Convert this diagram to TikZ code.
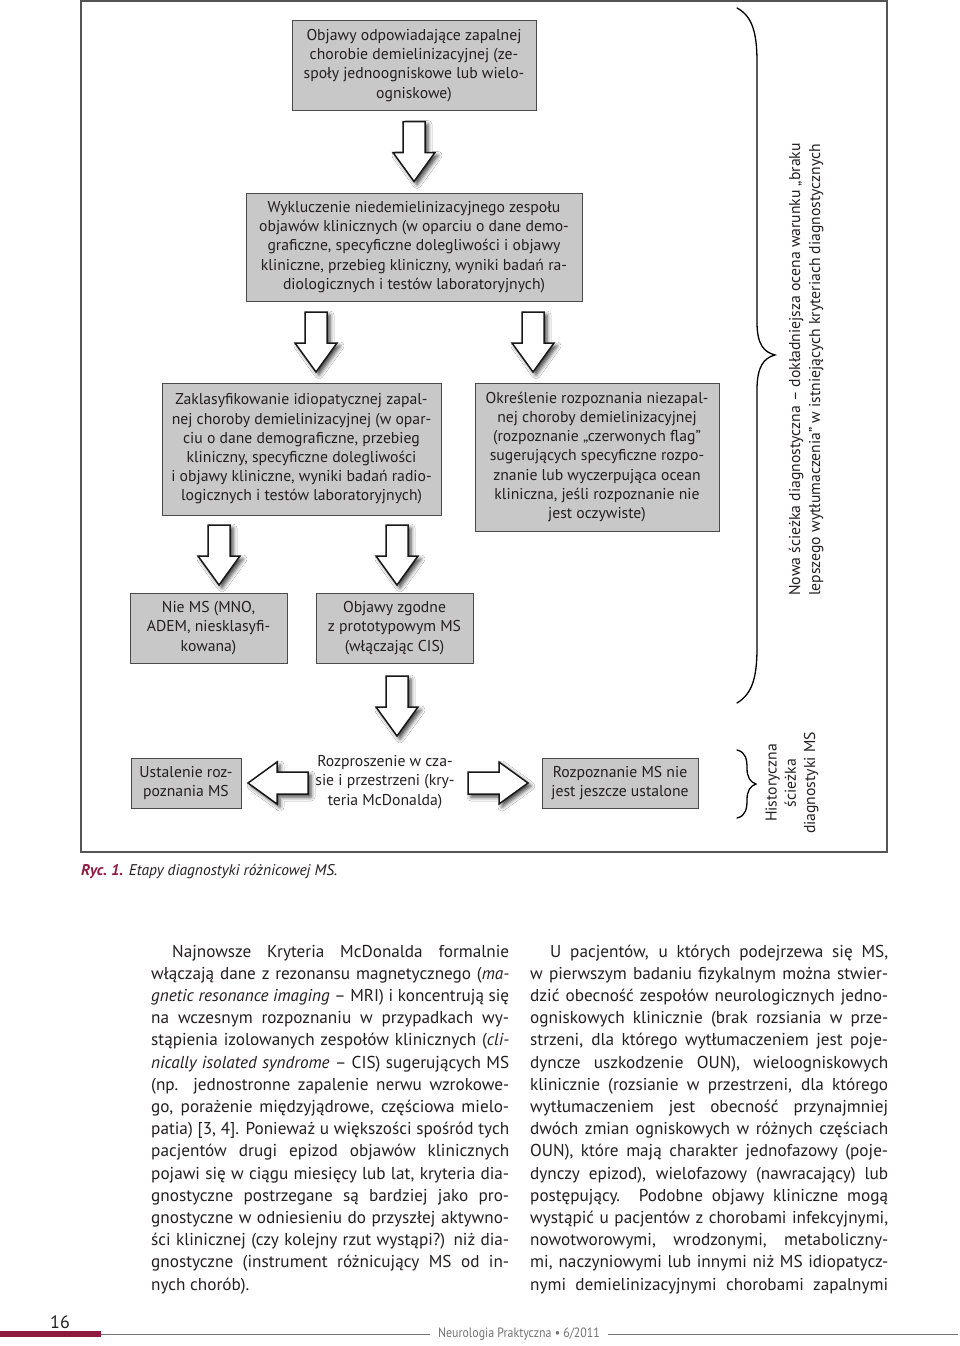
\documentclass[tikz,border=0pt]{standalone}
\usepackage{fontspec}
\setmainfont{PT Sans}
\usetikzlibrary{shadows.blur,calc}
\definecolor{boxfill}{HTML}{C8C8C8}
\definecolor{boxdraw}{HTML}{4A4A4A}
\definecolor{maroon}{HTML}{8C1B3E}
\definecolor{txt}{HTML}{231F20}
\definecolor{frame}{HTML}{555555}
\newcommand{\jl}[1]{\makebox[358pt][s]{#1}}
\tikzset{
  box/.style={draw=boxdraw, line width=1pt, fill=boxfill, align=center, inner sep=0pt,
    font=\fontsize{15.7}{19.2}\selectfont, text=txt},
  plain/.style={align=center, inner sep=0pt, font=\fontsize{15.7}{19.2}\selectfont, text=txt},
  body/.style={anchor=base west, inner sep=0pt, font=\fontsize{17.2}{22}\selectfont, text=txt},
  arrowbody/.style={draw=black!90, line width=1.5pt, fill=white, line join=miter,
    blur shadow={shadow xshift=3pt, shadow yshift=-3pt, shadow blur radius=4pt, shadow opacity=75}},
  pics/adown/.style={code={\coordinate (-c) at (0,0);
    \path[arrowbody] (-11,-30) -- (11,-30) -- (11,1) -- (21,1) -- (0,30) -- (-21,1) -- (-11,1) -- cycle;}},
  pics/aleft/.style={code={\coordinate (-c) at (0,0);
    \path[arrowbody] (30,-11) -- (30,11) -- (-1,11) -- (-1,21) -- (-30,0) -- (-1,-21) -- (-1,-11) -- cycle;}},
  pics/aright/.style={code={\coordinate (-c) at (0,0);
    \path[arrowbody] (-30,-11) -- (-30,11) -- (1,11) -- (1,21) -- (30,0) -- (1,-21) -- (1,-11) -- cycle;}},
  brace/.style={draw=black, line width=1.3pt, line cap=round}
}
\begin{document}
\begin{tikzpicture}[x=1pt,y=-1pt]
\useasboundingbox (0,0) rectangle (960,1346);
\fill[white] (0,0) rectangle (960,1346);

% frame
\draw[frame, line width=1.2pt] (81,1) rectangle (887,852);

% boxes
\node[box, minimum width=244pt, minimum height=89pt] (b1) at (414,65.5)
  {Objawy odpowiadające zapalnej\\chorobie demielinizacyjnej (ze-\\społy jednoogniskowe lub wielo-\\ogniskowe)};
\node[box, minimum width=336pt, minimum height=108pt] (b2) at (414,247)
  {Wykluczenie niedemielinizacyjnego zespołu\\objawów klinicznych (w oparciu o dane demo-\\graficzne, specyficzne dolegliwości i objawy\\kliniczne, przebieg kliniczny, wyniki badań ra-\\diologicznych i testów laboratoryjnych)};
\node[box, minimum width=279pt, minimum height=132pt] (b3) at (301.5,449)
  {Zaklasyfikowanie idiopatycznej zapal-\\nej choroby demielinizacyjnej (w opar-\\ciu o dane demograficzne, przebieg\\kliniczny, specyficzne dolegliwości\\i objawy kliniczne, wyniki badań radio-\\logicznych i testów laboratoryjnych)};
\node[box, minimum width=244pt, minimum height=148pt] (b4) at (597,457)
  {Określenie rozpoznania niezapal-\\nej choroby demielinizacyjnej\\(rozpoznanie „czerwonych flag”\\sugerujących specyficzne rozpo-\\znanie lub wyczerpująca ocean\\kliniczna, jeśli rozpoznanie nie\\jest oczywiste)};
\node[box, minimum width=157pt, minimum height=70pt] (b5) at (208.5,628)
  {Nie MS (MNO,\\ADEM, niesklasyfi-\\kowana)};
\node[box, minimum width=157pt, minimum height=70pt] (b6) at (394.5,628)
  {Objawy zgodne\\z prototypowym MS\\(włączając CIS)};
\node[plain] (mid) at (385,782)
  {Rozproszenie w cza-\\sie i przestrzeni (kry-\\teria McDonalda)};
\node[box, minimum width=110pt, minimum height=50pt] (b7) at (186,783)
  {Ustalenie roz-\\poznania MS};
\node[box, minimum width=156pt, minimum height=50pt] (b8) at (620,783)
  {Rozpoznanie MS nie\\jest jeszcze ustalone};

% block arrows
\pic (a1) at ($(b1.south)!0.5!(b2.north)$) {adown};
\pic (a2) at (316,342) {adown};
\pic (a3) at (533,342) {adown};
\pic (a4) at (219,555) {adown};
\pic (a5) at (397,555) {adown};
\pic (a6) at (397,706) {adown};
\pic (a7) at (278,783) {aleft};
\pic (a8) at (498,783) {aright};

% braces
\draw[brace] (737,8) .. controls (752,16) and (757,32) .. (757,62) -- (757,322)
  .. controls (757,345) and (764,352) .. (775,355)
  .. controls (764,358) and (757,366) .. (757,390) -- (757,648)
  .. controls (757,678) and (752,694) .. (737,703);
\draw[brace] (737,750) .. controls (746,752) and (747,760) .. (747,768)
  .. controls (747,777) and (750,782) .. (756,784)
  .. controls (750,786) and (747,791) .. (747,800)
  .. controls (747,808) and (746,816) .. (737,818);

% vertical labels
\node[plain, rotate=90, anchor=base west] (nowa1) at (800,596)
  {Nowa ścieżka diagnostyczna – dokładniejsza ocena warunku „braku};
\node[plain, rotate=90, anchor=base west] (nowa2) at (820,596)
  {lepszego wytłumaczenia” w istniejących kryteriach diagnostycznych};
\node[plain, rotate=90] (hist) at (792,783)
  {Historyczna\\ścieżka\\diagnostyki MS};

% caption
\node[anchor=base west, inner sep=0pt, font=\fontsize{15.5}{18}\selectfont, text=txt] (cap) at (81,875)
  {\textcolor{maroon}{\bfseries\itshape Ryc.~1.} \itshape Etapy diagnostyki różnicowej MS.};

% left column
\node[body] (l1) at (151,957) {\jl{\hspace*{21pt}Najnowsze Kryteria McDonalda formalnie}};
\node[body] (l2) at (151,979.2) {\jl{włączają dane z rezonansu magnetycznego (\textit{ma-}}};
\node[body] (l3) at (151,1001.4) {\jl{\textit{gnetic resonance imaging} – MRI) i koncentrują się}};
\node[body] (l4) at (151,1023.6) {\jl{na wczesnym rozpoznaniu w przypadkach wy-}};
\node[body] (l5) at (151,1045.8) {\jl{stąpienia izolowanych zespołów klinicznych (\textit{cli-}}};
\node[body] (l6) at (151,1068) {\jl{\textit{nically isolated syndrome} – CIS) sugerujących MS}};
\node[body] (l7) at (151,1090.2) {\jl{(np. jednostronne zapalenie nerwu wzrokowe-}};
\node[body] (l8) at (151,1112.4) {\jl{go, porażenie międzyjądrowe, częściowa mielo-}};
\node[body] (l9) at (151,1134.6) {\jl{patia) [3, 4]. Ponieważ u większości spośród tych}};
\node[body] (l10) at (151,1156.8) {\jl{pacjentów drugi epizod objawów klinicznych}};
\node[body] (l11) at (151,1179) {\jl{pojawi się w ciągu miesięcy lub lat, kryteria dia-}};
\node[body] (l12) at (151,1201.2) {\jl{gnostyczne postrzegane są bardziej jako pro-}};
\node[body] (l13) at (151,1223.4) {\jl{gnostyczne w odniesieniu do przyszłej aktywno-}};
\node[body] (l14) at (151,1245.6) {\jl{ści klinicznej (czy kolejny rzut wystąpi?) niż dia-}};
\node[body] (l15) at (151,1267.8) {\jl{gnostyczne (instrument różnicujący MS od in-}};
\node[body] (l16) at (151,1290) {nych chorób).};

% right column
\node[body] (r1) at (530,957) {\jl{\hspace*{20pt}U pacjentów, u których podejrzewa się MS,}};
\node[body] (r2) at (530,979.2) {\jl{w pierwszym badaniu fizykalnym można stwier-}};
\node[body] (r3) at (530,1001.4) {\jl{dzić obecność zespołów neurologicznych jedno-}};
\node[body] (r4) at (530,1023.6) {\jl{ogniskowych klinicznie (brak rozsiania w prze-}};
\node[body] (r5) at (530,1045.8) {\jl{strzeni, dla którego wytłumaczeniem jest poje-}};
\node[body] (r6) at (530,1068) {\jl{dyncze uszkodzenie OUN), wieloogniskowych}};
\node[body] (r7) at (530,1090.2) {\jl{klinicznie (rozsianie w przestrzeni, dla którego}};
\node[body] (r8) at (530,1112.4) {\jl{wytłumaczeniem jest obecność przynajmniej}};
\node[body] (r9) at (530,1134.6) {\jl{dwóch zmian ogniskowych w różnych częściach}};
\node[body] (r10) at (530,1156.8) {\jl{OUN), które mają charakter jednofazowy (poje-}};
\node[body] (r11) at (530,1179) {\jl{dynczy epizod), wielofazowy (nawracający) lub}};
\node[body] (r12) at (530,1201.2) {\jl{postępujący. Podobne objawy kliniczne mogą}};
\node[body] (r13) at (530,1223.4) {\jl{wystąpić u pacjentów z chorobami infekcyjnymi,}};
\node[body] (r14) at (530,1245.6) {\jl{nowotworowymi, wrodzonymi, metaboliczny-}};
\node[body] (r15) at (530,1267.8) {\jl{mi, naczyniowymi lub innymi niż MS idiopatycz-}};
\node[body] (r16) at (530,1290) {\jl{nymi demielinizacyjnymi chorobami zapalnymi}};

% footer
\node[anchor=base, inner sep=0pt, font=\fontsize{18}{20}\selectfont, text=txt] (pg) at (60,1328) {16};
\fill[maroon] (0,1331) rectangle (101,1337);
\node[inner sep=0pt, font=\fontsize{13.5}{16}\selectfont, text=black!55, xscale=0.88] (jn) at (519,1334)
  {Neurologia Praktyczna • 6/2011};
\draw[black!55, line width=0.8pt] (101,1334) -- ($(jn.west)+(-8,0)$);
\draw[black!55, line width=0.8pt] ($(jn.east)+(8,0)$) -- (958,1334);
\end{tikzpicture}
\end{document}
